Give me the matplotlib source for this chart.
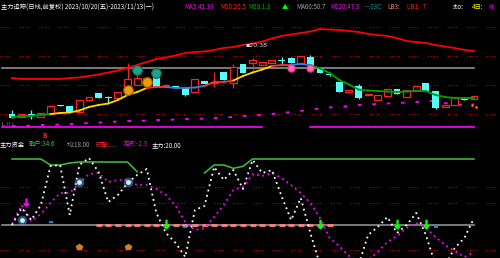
import numpy as np
import matplotlib.pyplot as plt

plt.rcParams['font.family'] = ['Noto Sans CJK SC', 'DejaVu Sans']

# ---- K线数据 (价格) ----
opens = [18.6, 18.3, 18.6, 18.3, 18.6, 19.5, 19.4, 18.8, 20.0, 20.7,
         20.3, 20.2, 20.8, 21.5, 21.8, 22.7, 21.4, 21.4, 21.2, 20.8,
         21.9, 21.7, 22.8, 21.7, 23.6, 23.7, 23.5, 23.7, 24.0, 24.2,
         23.7, 24.3, 23.2, 22.6, 21.8, 20.8, 21.4, 20.5, 20.0, 20.4,
         21.1, 20.3, 21.0, 21.7, 20.9, 19.3, 19.5, 20.1, 20.1]
closes = [18.2, 18.6, 18.5, 18.7, 19.4, 19.45, 18.8, 20.0, 20.3, 20.2,
          20.2, 20.8, 22.1, 22.2, 22.2, 21.3, 21.5, 21.2, 20.5, 22.1,
          21.6, 21.8, 22.0, 23.3, 22.7, 24.0, 23.8, 24.0, 23.9, 23.7,
          24.4, 23.5, 22.7, 22.5, 20.8, 21.0, 20.2, 20.6, 20.5, 21.1,
          20.6, 21.0, 21.4, 20.9, 19.2, 19.5, 20.3, 20.0, 20.4]
highs = [19.0, 18.6, 19.0, 18.7, 19.4, 19.5, 19.4, 20.0, 20.3, 20.7,
         20.4, 20.8, 23.7, 22.7, 22.3, 22.7, 21.6, 21.4, 21.2, 22.1,
         21.9, 22.8, 22.8, 23.6, 23.6, 24.2, 23.8, 24.0, 24.3, 24.3,
         24.4, 24.5, 23.2, 22.7, 21.8, 21.0, 21.6, 20.6, 20.5, 21.1,
         21.1, 21.0, 21.4, 21.7, 20.9, 19.5, 20.3, 20.1, 20.4]
lows = [18.2, 18.3, 18.1, 18.3, 18.6, 19.4, 18.8, 18.7, 20.0, 20.2,
        19.7, 20.2, 20.8, 21.5, 21.6, 21.3, 21.3, 21.2, 20.4, 20.8,
        21.6, 21.3, 22.0, 21.2, 22.7, 23.0, 23.5, 23.7, 23.5, 23.7,
        23.7, 23.5, 22.7, 22.4, 20.8, 20.8, 20.1, 20.5, 20.0, 20.3,
        20.6, 20.3, 21.0, 20.9, 19.1, 19.3, 19.5, 20.0, 20.1]

# 长期均线 (红)
ma_long = [22.2, 22.1, 22.1, 22.1, 22.1, 22.1, 22.2, 22.25, 22.4, 22.55,
           22.75, 22.95, 23.2, 23.5, 23.8, 24.1, 24.25, 24.45, 24.7, 24.8,
           24.85, 25.0, 25.2, 25.3, 25.5, 25.65, 25.85, 26.15, 26.4, 26.55,
           26.7, 26.85, 27.1, 27.05, 27.0, 26.9, 26.8, 26.6, 26.5, 26.4,
           26.2, 25.9, 25.8, 25.7, 25.5, 25.35, 25.2, 25.0, 24.9]
# 短期均线 (变色)
ma_short = [18.3, 18.4, 18.4, 18.5, 18.6, 18.7, 18.75, 18.95, 19.3, 19.5,
            19.65, 20.0, 20.5, 20.8, 21.2, 21.3, 21.3, 21.2, 21.2, 21.25,
            21.4, 21.8, 21.8, 21.95, 22.4, 22.75, 23.05, 23.4, 23.5, 23.5,
            23.6, 23.5, 23.15, 22.7, 22.0, 21.55, 21.05, 20.95, 20.9, 20.85,
            20.8, 20.85, 20.9, 20.9, 20.5, 20.3, 20.2, 20.2, 20.2]
ma_short_trend = ("gggg" + "yyyyyyyyyy" + "rr" + "bbbb" + "rrr" + "yyyy"
                  + "rr" + "bb" + "ggggggggggggggggg")
# 品红点线
ma_dots = [17.4, 17.4, 17.45, 17.5, 17.5, 17.55, 17.6, 17.65, 17.7, 17.75,
           17.8, 17.85, 17.9, 17.9, 17.95, 18.0, 18.0, 18.05, 18.1, 18.1,
           18.15, 18.2, 18.25, 18.3, 18.4, 18.45, 18.5, 18.6, 18.7, 18.8,
           18.9, 19.05, 19.15, 19.25, 19.3, 19.4, 19.5, 19.55, 19.6, 19.65,
           19.7, 19.75, 19.8, 19.9, 19.9, 19.7, 19.5, 19.55, 19.6]
grey_level = 23.2
magenta_level = 17.35
magenta_spans = [(-1.0, 26), (31, 48)]
top_grid = [27.3, 24.4, 21.5, 18.6]

orange_x, orange_y = [12, 14], [21.0, 21.8]
teal_x, teal_y = [13, 15], [23.0, 22.7]
pink_x, pink_y = [29, 31], [23.2, 23.2]
high_label = ("20.38", 24.3, 25.5)

# ---- 副图 ----
white_k = [0, 25.5, 7.5, 30, 88.5, 90, 15, 90, 100.5, 79.5,
           34.5, 45, 63, 75, 84, 18, -12, -27, -48, 22.5,
           28.5, 87, 67.5, 82.5, 54, 97.5, 78, 82.5, 43.5, 7.5,
           40.5, -12, -60, -82, -90, -82, -60, -15, -3, 12,
           -12, 0, 18, -15, -60, -60, -34.5, -19.5, 10.5]
magenta_d = [1.5, 30, 6, 16.5, 33, 48, 48, 63, 76.5, 78,
             64.5, 67.5, 67.5, 60, 60, 54, 45, 28.5, 4.5, -7.5,
             -4.5, 12, 30, 52.5, 57, 76.5, 73.5, 78, 70.5, 60,
             48, 33, 10.5, -19.5, -31.5, -46.5, -55.5, -52.5, -40.5, -25.5,
             -16.5, -4.5, 3, -4.5, -18, -30, -39, -48, -40.5]
nan = np.nan
green_top = [99, 99, 99, 99, 90, 90, 93, 94.5, 94.5, 94.5,
             94.5, 94.5, 94.5, 80, nan, nan, nan, nan, nan, nan,
             78, 90, 90, 85, 88, 99, 99, 99, 99, 99,
             99, 99, 99, 99, 99, 99, 99, 99, 99, 99,
             99, 99, 99, 99, 99, 99, 99, 99, 99]
bottom_grid = [57, 33, -37.5]
salmon_x = list(range(9, 34))
green_arrow_x = [16, 32, 40, 43]
glow_x, glow_y = [1, 7, 12], [7.5, 64.5, 64.5]
cyan_x, cyan_y = [4, 18, 44], [4, -3, -3]
buy_x = [7, 12]
buy_y = -33

top_header = [
    (1, "主力追踪(日线,前复权) 2023/10/20(五)-2023/11/13(一)", "#ffffff"),
    (184, "MA5:41.38", "#ff00ff"),
    (220, "M10:20.5", "#ff2020"),
    (248, "M20:1.3", "#00b000"),
    (282, "▲:", "#00ff00"),
    (296, "MA60:50.7", "#a0a0a0"),
    (330, "M120:47.3", "#ff00ff"),
    (364, "—.03C", "#00a0a0"),
    (387, "LB3:", "#ff8080"),
    (407, "LB1:  7", "#ff2020"),
    (453, "sto:", "#ffffff"),
    (472, "4日:", "#ffff00"),
    (488, "H:", "#ff00ff"),
]
bottom_header = [
    (0, "主力资金", "#ffffff"),
    (29, "散户:34.6", "#40c040"),
    (67, "均:18.00", "#a0a0a0"),
    (96, "预警:....", "#ff2020"),
    (123, "游资:-2.3", "#ff00ff"),
    (152, "主力:20.00", "#ffffff"),
]

RED = "#ff2020"
CYAN = "#54fcfc"
trend_colors = {"g": "#00a000", "y": "#ffd800", "r": "#ff3030", "b": "#3080e0"}
grid_style = (0, (1, 1.5, 1, 1.5, 1, 1.5, 1, 9))

W, H = 500, 258
fig = plt.figure(figsize=(W / 100, H / 100), dpi=100, facecolor="black")
xlim = (-12 / 9.625, (W - 12) / 9.625)

ax1 = fig.add_axes([0, (H - 132) / H, 1, 119 / H])
ax1.set_facecolor("black")
ax1.set_xlim(*xlim)
ax1.set_ylim(16.8, 28.7)
ax1.axis("off")

for g in top_grid:
    ax1.axhline(g, color="#c00000", lw=0.8, linestyle=grid_style)

ax1.plot([-1.0, 48], [grey_level, grey_level], color="#909090", lw=1.2)
for a, b in magenta_spans:
    ax1.plot([a, b], [magenta_level, magenta_level], color="#ff00ff", lw=1.2)

ax1.plot(np.arange(len(ma_long)), ma_long, color="#ff0000", lw=1.3)
ax1.plot(np.arange(len(ma_dots)), ma_dots, color="#ff00ff", lw=1.3,
         linestyle=(0, (2, 6)))

o = np.array(opens)
c = np.array(closes)
h = np.array(highs)
lo = np.array(lows)
idx = np.arange(len(o))
up = c >= o
ax1.vlines(idx, lo, h, colors=np.where(up, RED, CYAN), lw=0.9, zorder=3)
body_bottom = np.minimum(o, c)
body_h = np.maximum(np.abs(c - o), 0.06)
ax1.bar(idx[up], body_h[up], bottom=body_bottom[up], width=0.72,
        facecolor="black", edgecolor=RED, lw=0.9, zorder=4)
ax1.bar(idx[~up], body_h[~up], bottom=body_bottom[~up], width=0.72,
        color=CYAN, lw=0, zorder=4)

for i in range(len(ma_short) - 1):
    ax1.plot([i, i + 1], [ma_short[i], ma_short[i + 1]],
             color=trend_colors[ma_short_trend[i]], lw=1.3, zorder=5)

ax1.plot(orange_x, orange_y, "o", ms=7, mfc="#e8a000", mec="#a05000", mew=0.8, zorder=6)
ax1.plot(teal_x, teal_y, "o", ms=7, mfc="#20a088", mec="#106050", mew=0.8, zorder=6)
ax1.plot(pink_x, pink_y, "o", ms=5, mfc="#ff70b0", mec="#ff30a0", zorder=6)
ax1.text(high_label[1], high_label[2], "▪" + high_label[0], color="#e0e0e0",
         fontsize=4.5, ha="left", va="center", family=["DejaVu Sans"])
ax1.text(-1.0, 17.55, "L ⁞⁞ ⁞", color="#a0a0a0", fontsize=4, va="center",
         family=["DejaVu Sans"])
ax1.plot([47.8, 48.2], [19.5, 19.3], ".", color="#ff6020", ms=2)

ax2 = fig.add_axes([0, 0, 1, 105 / H])
ax2.set_facecolor("black")
ax2.set_xlim(*xlim)
ax2.set_ylim(-49.5, 108)
ax2.axis("off")

for g in bottom_grid:
    ax2.axhline(g, color="#c00000", lw=0.8, linestyle=grid_style)
ax2.plot([-1.0, 48], [0, 0], color="#909090", lw=1.2)
ax2.plot(salmon_x, [0] * len(salmon_x), "_", color="#ff8080", ms=4, mew=2)

ax2.plot(np.arange(len(green_top)), green_top, color="#40c040", lw=1.1)
ax2.plot(np.arange(len(magenta_d)), magenta_d, color="#ff00ff", lw=1.3,
         linestyle=(0, (1, 2)))
ax2.plot(np.arange(len(white_k)), white_k, color="#ffffff", lw=1.3,
         linestyle=(0, (1, 2)))

ax2.plot(glow_x, glow_y, "o", ms=7, color="#60b0ff", alpha=0.45, mew=0)
ax2.plot(glow_x, glow_y, "o", ms=3.5, color="#d8f0ff", mew=0)
ax2.plot(cyan_x, cyan_y, "_", ms=3, mew=1.2, color="#00b0ff")
ax2.plot(green_arrow_x, [2] * len(green_arrow_x), marker=r"$\downarrow$",
         ls="none", ms=6, color="#00ff00")
ax2.plot([1.5], [35], marker=r"$\downarrow$", ls="none", ms=5, color="#ff00ff")
ax2.plot(buy_x, [buy_y] * len(buy_x), "p", ms=4, color="#d08020")

for x, s, col in top_header:
    fig.text(x / W, 1 - 7 / H, s, color=col, fontsize=4.5, ha="left", va="center")
for x, s, col in bottom_header:
    fig.text(x / W, 1 - 145 / H, s, color=col, fontsize=4.5, ha="left", va="center")
fig.text(45 / W, 1 - 136 / H, "B", color="#ff2020", fontsize=4.5, ha="center",
         va="center", weight="bold")

fig.savefig("out.png", dpi=100, facecolor="black")
